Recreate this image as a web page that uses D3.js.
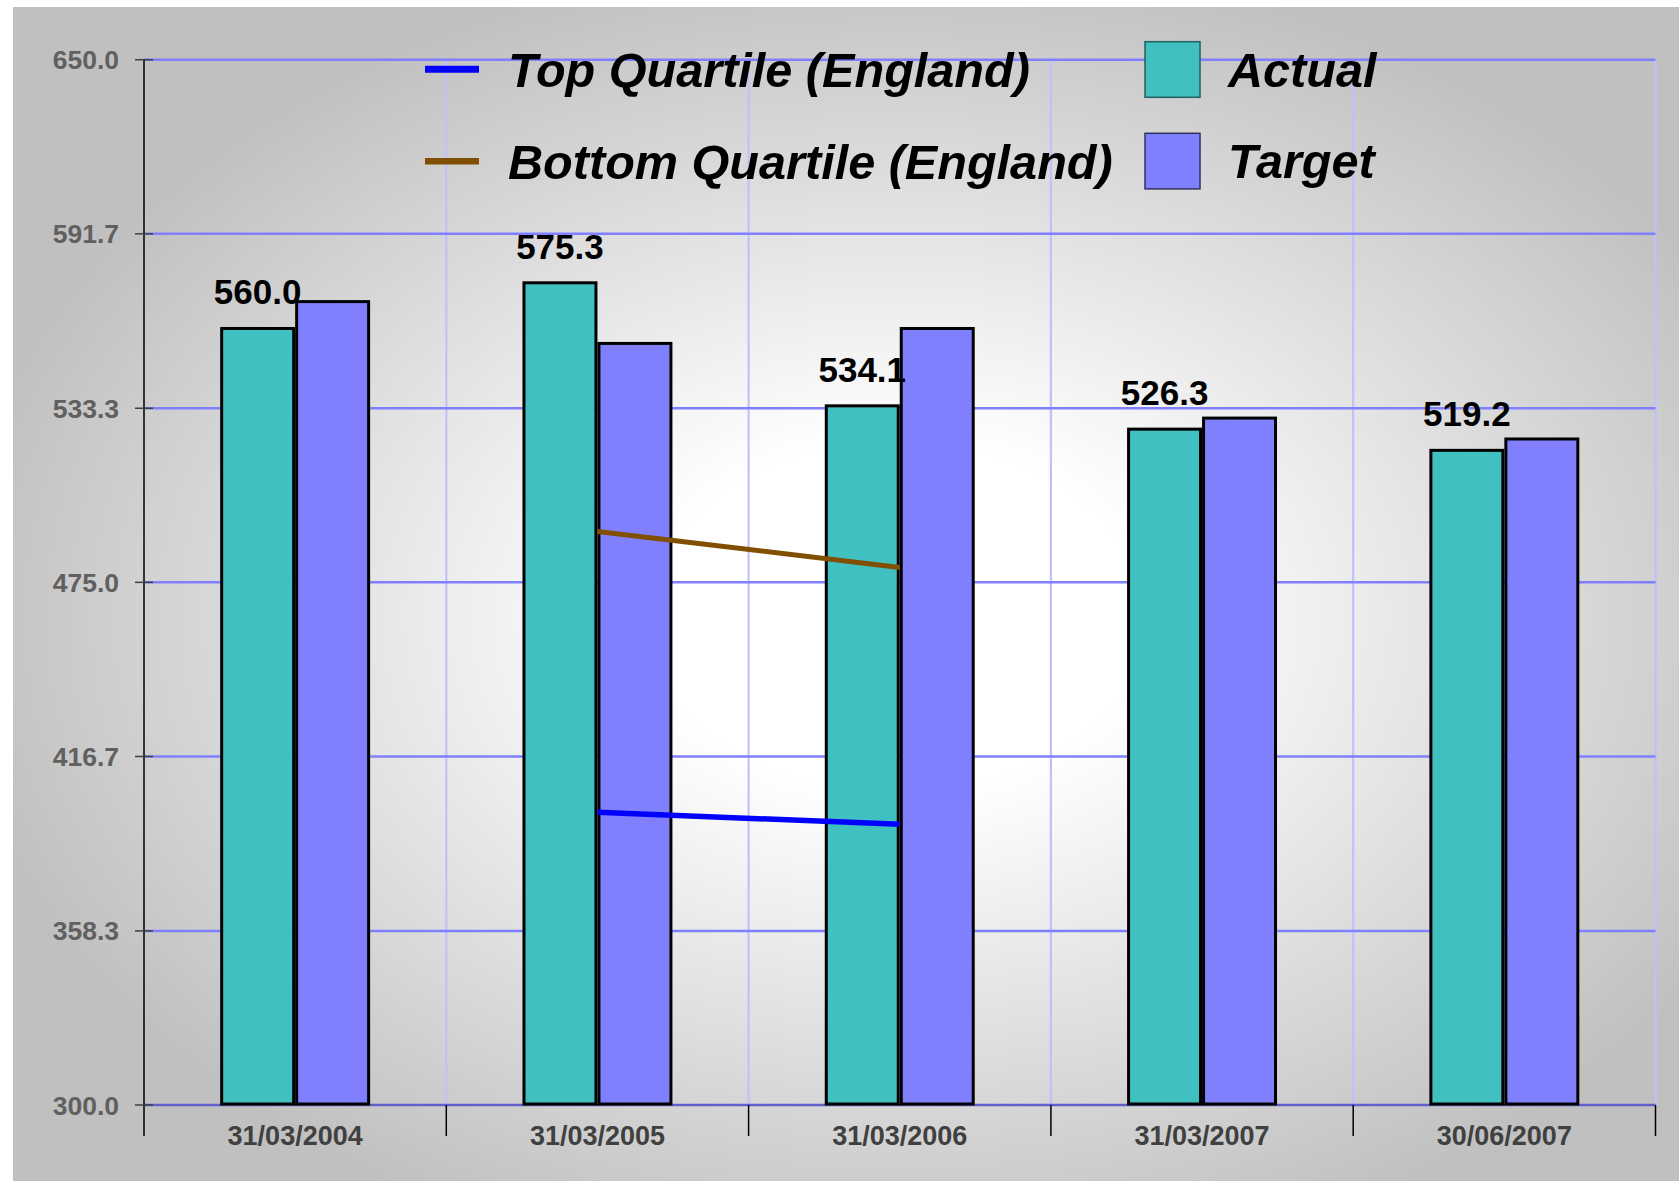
<!DOCTYPE html>
<html>
<head>
<meta charset="utf-8">
<script src="https://cdn.jsdelivr.net/npm/d3@7"></script>
<style>
  html, body { margin: 0; padding: 0; background: #ffffff; }
  svg { display: block; }
  text { font-family: "Liberation Sans", Arial, sans-serif; }
</style>
</head>
<body>
<svg id="chart" width="1679" height="1181"></svg>
<script>
// ---------- data ----------
const categories = ["31/03/2004", "31/03/2005", "31/03/2006", "31/03/2007", "30/06/2007"];
const actualValues = [560.0, 575.3, 534.1, 526.3, 519.2];
const targetValues = [569.0, 555.0, 560.0, 530.0, 523.0];
const topQuartile = [null, 398.0, 394.0, null, null];
const bottomQuartile = [null, 492.0, 480.0, null, null];
const yTickValues = [300, 358.3, 416.7, 475, 533.3, 591.7, 650];
const yTickLabels = ["300.0", "358.3", "416.7", "475.0", "533.3", "591.7", "650.0"];
const seriesNames = ["Actual", "Target"];
const lineNames = ["Top Quartile (England)", "Bottom Quartile (England)"];

// ---------- layout ----------
const W = 1679, H = 1181;
const plot = { left: 144, right: 1655.5, top: 59.7, bottom: 1105 };
const colActual = "#40C0C0", colTarget = "#8080FF";
const colTop = "#0000FF", colBottom = "#805000";

const svg = d3.select("#chart");
const defs = svg.append("defs");
const grad = defs.append("radialGradient").attr("id", "bg")
  .attr("cx", 0.53).attr("cy", 0.52).attr("r", 0.57)
  .attr("fx", 0.53).attr("fy", 0.52);
grad.append("stop").attr("offset", "0").attr("stop-color", "#ffffff");
grad.append("stop").attr("offset", "0.26").attr("stop-color", "#ffffff");
grad.append("stop").attr("offset", "1").attr("stop-color", "#c0c0c0");

svg.append("rect").attr("x", 13).attr("y", 7).attr("width", W - 13).attr("height", H - 7)
  .attr("fill", "url(#bg)");

const x0 = d3.scaleBand().domain(categories).range([plot.left, plot.right]).padding(0);
const bw = x0.bandwidth();
const x1 = d3.scaleBand().domain(seriesNames).range([bw * 0.252, bw * 0.748]).padding(0);
const y = d3.scaleLinear().domain([300, 650]).range([plot.bottom, plot.top]);

// vertical gridlines at category boundaries
const bounds = categories.map(c => x0(c)).concat([plot.right]);
svg.append("g").selectAll("line").data(bounds.slice(1)).join("line")
  .attr("x1", d => d).attr("x2", d => d)
  .attr("y1", plot.top).attr("y2", plot.bottom)
  .attr("stroke", "#C0C0FF").attr("stroke-width", 2.2);

// horizontal gridlines
svg.append("g").selectAll("line").data(yTickValues).join("line")
  .attr("x1", plot.left).attr("x2", plot.right)
  .attr("y1", d => y(d)).attr("y2", d => y(d))
  .attr("stroke", d => d === 300 ? "#6060C8" : "#8080FF").attr("stroke-width", 2.5);

// Actual bars
const bars = svg.append("g");
const sw = 3;
bars.selectAll("rect.actual").data(actualValues).join("rect")
  .attr("class", "actual")
  .attr("x", (d, i) => x0(categories[i]) + x1("Actual") + sw / 2)
  .attr("width", x1.bandwidth() - sw)
  .attr("y", d => y(d))
  .attr("height", d => y(300) - y(d) - 1)
  .attr("fill", colActual).attr("stroke", "#000").attr("stroke-width", sw);

// data labels
svg.append("g").selectAll("text").data(actualValues).join("text")
  .attr("x", (d, i) => x0(categories[i]) + x1("Actual") + x1.bandwidth() / 2)
  .attr("y", d => y(d) - 24)
  .attr("text-anchor", "middle")
  .attr("font-size", 35).attr("font-weight", "bold").attr("fill", "#000")
  .text(d => d3.format(".1f")(d));

// Target bars
bars.append("g").selectAll("rect").data(targetValues).join("rect")
  .attr("x", (d, i) => x0(categories[i]) + x1("Target") + sw / 2)
  .attr("width", x1.bandwidth() - sw)
  .attr("y", d => y(d))
  .attr("height", d => y(300) - y(d) - 1)
  .attr("fill", colTarget).attr("stroke", "#000").attr("stroke-width", sw);

// quartile lines
const line = d3.line()
  .defined(d => d.v !== null)
  .x(d => x0(d.c) + bw / 2)
  .y(d => y(d.v));
svg.append("path")
  .datum(categories.map((c, i) => ({ c, v: bottomQuartile[i] })))
  .attr("d", line).attr("fill", "none").attr("stroke", colBottom).attr("stroke-width", 5);
svg.append("path")
  .datum(categories.map((c, i) => ({ c, v: topQuartile[i] })))
  .attr("d", line).attr("fill", "none").attr("stroke", colTop).attr("stroke-width", 5.5);

// y axis
const yAxis = svg.append("g");
yAxis.append("line").attr("x1", plot.left).attr("x2", plot.left)
  .attr("y1", plot.top).attr("y2", 1136).attr("stroke", "#000").attr("stroke-width", 1.5);
yAxis.selectAll("line.tick").data(yTickValues).join("line").attr("class", "tick")
  .attr("x1", 135).attr("x2", 153).attr("y1", d => y(d)).attr("y2", d => y(d))
  .attr("stroke", "#404040").attr("stroke-width", 1.5);
yAxis.selectAll("text").data(yTickValues).join("text")
  .attr("x", 119).attr("y", d => y(d) + 9.5)
  .attr("text-anchor", "end")
  .attr("font-size", 26.5).attr("font-weight", "bold").attr("fill", "#606060")
  .text((d, i) => yTickLabels[i]);

// x axis
const xAxis = svg.append("g");
xAxis.selectAll("line").data(bounds.slice(1)).join("line")
  .attr("x1", d => d).attr("x2", d => d).attr("y1", plot.bottom).attr("y2", 1136)
  .attr("stroke", "#000").attr("stroke-width", 1.5);
xAxis.selectAll("text").data(categories).join("text")
  .attr("x", d => x0(d) + bw / 2).attr("y", 1145)
  .attr("text-anchor", "middle")
  .attr("font-size", 27).attr("font-weight", "bold").attr("fill", "#404040")
  .text(d => d);

// legend
const leg = svg.append("g");
const lineRows = [{ name: lineNames[0], color: colTop, y: 69.3, w: 7 }, { name: lineNames[1], color: colBottom, y: 161.3, w: 6.5 }];
lineRows.forEach(r => {
  leg.append("line").attr("x1", 425).attr("x2", 479).attr("y1", r.y).attr("y2", r.y)
    .attr("stroke", r.color).attr("stroke-width", r.w);
  leg.append("text").attr("x", 508).attr("y", r.y + 17.5)
    .attr("font-size", 48.6).attr("font-weight", "bold").attr("font-style", "italic").attr("fill", "#000")
    .text(r.name);
});
const boxRows = [{ name: seriesNames[0], color: colActual, stroke: "#206060", y: 41.7 }, { name: seriesNames[1], color: colTarget, stroke: "#303060", y: 133.3 }];
boxRows.forEach(r => {
  leg.append("rect").attr("x", 1145).attr("y", r.y).attr("width", 55).attr("height", 55.6)
    .attr("fill", r.color).attr("stroke", r.stroke).attr("stroke-width", 1.5);
  leg.append("text").attr("x", 1228).attr("y", r.y + 45)
    .attr("font-size", 48.6).attr("font-weight", "bold").attr("font-style", "italic").attr("fill", "#000")
    .text(r.name);
});
</script>
</body>
</html>
